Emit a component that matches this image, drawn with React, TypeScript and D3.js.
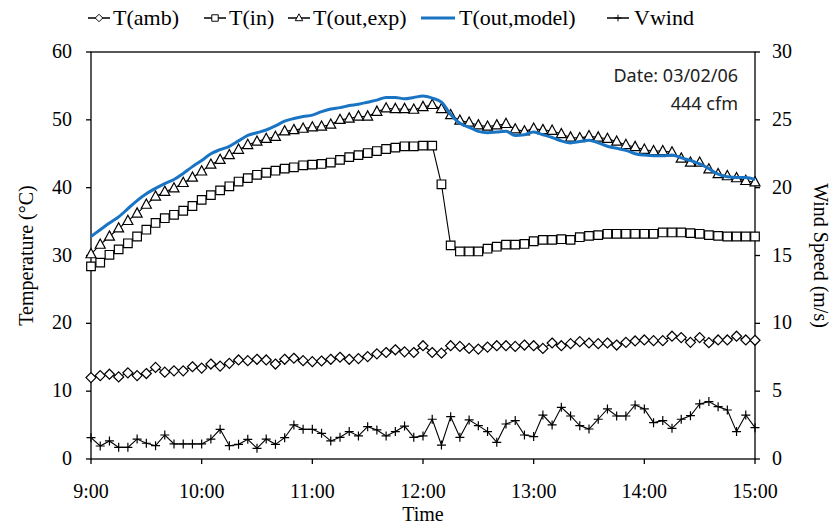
import * as d3 from 'd3'
import React from 'react'

// 5-minute samples from 9:00 to 15:00
const START_MIN = 9 * 60
const STEP_MIN = 5

const tAmb = [
  12.0, 12.3, 12.5, 12.1, 12.7, 12.3, 12.6, 13.5, 12.8, 13.0, 13.0, 13.6, 13.4, 14.0, 13.7, 14.1,
  14.6, 14.5, 14.7, 14.6, 14.0, 14.7, 14.85, 14.5, 14.35, 14.45, 14.7, 15.0, 14.7, 14.8, 15.1, 15.5,
  15.7, 16.1, 15.8, 15.7, 16.7, 15.7, 15.6, 16.7, 16.6, 16.3, 16.2, 16.5, 16.7, 16.7, 16.6, 16.8,
  16.7, 16.3, 17.1, 16.7, 17.0, 17.3, 17.1, 17.0, 17.1, 16.8, 17.2, 17.4, 17.55, 17.45, 17.45, 18.1,
  17.9, 17.2, 17.9, 17.15, 17.55, 17.55, 18.1, 17.55, 17.5,
]

const tIn = [
  28.4, 28.95, 30.1, 30.9, 31.8, 32.8, 33.8, 34.8, 35.5, 36.0, 36.6, 37.3, 38.2, 38.9, 39.6, 40.2,
  40.9, 41.4, 41.9, 42.2, 42.5, 42.8, 43.0, 43.3, 43.4, 43.5, 43.7, 44.1, 44.5, 44.8, 45.1, 45.4,
  45.7, 45.9, 46.1, 46.1, 46.2, 46.2, 40.5, 31.5, 30.6, 30.6, 30.6, 31.0, 31.3, 31.6, 31.6, 31.7,
  32.1, 32.3, 32.3, 32.4, 32.3, 32.7, 32.9, 33.0, 33.2, 33.2, 33.2, 33.2, 33.2, 33.2, 33.4, 33.4,
  33.4, 33.3, 33.2, 33.0, 32.9, 32.8, 32.8, 32.8, 32.8,
]

const tOutExp = [
  30.2, 31.6, 32.8, 34.0, 35.1, 36.2, 37.5, 38.7, 39.4, 39.9, 40.7, 41.5, 42.4, 43.4, 44.1, 44.8,
  45.6, 46.3, 46.8, 47.2, 47.5, 48.3, 48.5, 48.7, 48.9, 49.0, 49.3, 50.0, 50.2, 50.5, 50.5, 51.2,
  51.7, 51.6, 51.6, 51.5, 51.9, 52.2, 51.6, 50.7, 49.9, 49.6, 49.2, 49.0, 49.2, 49.4, 48.6, 48.3,
  48.7, 48.5, 48.4, 47.9, 47.4, 47.3, 47.6, 47.4, 47.2, 46.8, 46.3, 46.0, 45.6, 45.4, 45.4, 45.2,
  44.3, 43.7, 43.7, 42.7, 42.0, 41.7, 41.4, 41.0, 40.8,
]

const tOutModel = [
  32.8, 33.8, 34.8, 35.7, 36.9, 38.1, 39.1, 39.9, 40.6, 41.2, 42.1, 43.1, 44.0, 45.0, 45.6, 46.1,
  46.9, 47.7, 48.1, 48.5, 49.1, 49.8, 50.2, 50.5, 50.7, 51.2, 51.6, 51.8, 52.1, 52.3, 52.6, 52.9,
  53.3, 53.3, 53.1, 53.3, 53.5, 53.2, 52.6, 50.8, 49.5, 48.9, 48.3, 48.1, 48.2, 48.3, 47.7, 47.8,
  48.2, 47.8, 47.4, 46.9, 46.6, 46.8, 47.0, 46.6, 46.1, 45.8, 45.5, 45.0, 44.8, 44.7, 44.7, 44.8,
  44.4, 44.0, 43.5, 42.8, 42.0, 41.6, 41.5, 41.5, 41.2,
]

const vWind = [
  1.57, 0.96, 1.33, 0.86, 0.86, 1.47, 1.16, 0.98, 1.77, 1.11, 1.11, 1.11, 1.11, 1.47, 2.19, 0.98,
  1.08, 1.45, 0.79, 1.47, 1.08, 1.57, 2.51, 2.19, 2.19, 1.89, 1.33, 1.6, 2.02, 1.7, 2.38, 2.14,
  1.7, 2.02, 2.43, 1.6, 1.7, 2.93, 1.03, 3.12, 1.6, 2.88, 2.46, 2.02, 1.23, 2.58, 2.83, 1.77,
  1.65, 3.24, 2.51, 3.81, 3.17, 2.46, 2.21, 2.93, 3.69, 3.17, 3.17, 3.98, 3.69, 2.68, 2.83, 2.26,
  2.93, 3.19, 4.06, 4.23, 3.86, 3.61, 2.02, 3.24, 2.31,
]

const tempTicks = [0, 10, 20, 30, 40, 50, 60]
const windTicks = [0, 5, 10, 15, 20, 25, 30]
const hourTicks = [9, 10, 11, 12, 13, 14, 15]

const W = 836
const H = 524
const M = { left: 91, right: 755, top: 52, bottom: 459 }
const SERIF = '"Liberation Serif", "DejaVu Serif", serif'
const SANS = '"Noto Sans", "Open Sans", sans-serif'
const BLUE = '#1a74c4'

const mins = tAmb.map((_, i) => START_MIN + i * STEP_MIN)

const x = d3.scaleLinear().domain([9 * 60, 15 * 60]).range([M.left, M.right])
const yT = d3.scaleLinear().domain([0, 60]).range([M.bottom, M.top])
const yW = d3.scaleLinear().domain([0, 30]).range([M.bottom, M.top])

const markers = {
  diamond: 'M0,-5L5,0L0,5L-5,0Z',
  square: 'M-4.3,-4.3H4.3V4.3H-4.3Z',
  triangle: 'M0,-5.6L5,3.6H-5Z',
  plus: 'M-4.5,0H4.5M0,-4.5V4.5',
}

const Series = ({ values, scale, marker }) => {
  const line = d3
    .line()
    .x((d, i) => x(mins[i]))
    .y(d => scale(d))
  return (
    <g>
      <path d={line(values)} fill="none" stroke="#000" strokeWidth={1.1} />
      {values.map((v, i) => (
        <path
          key={i}
          d={markers[marker]}
          transform={`translate(${x(mins[i])},${scale(v)})`}
          fill={marker === 'plus' ? 'none' : '#fff'}
          stroke="#000"
          strokeWidth={1.2}
        />
      ))}
    </g>
  )
}

// legend: x of symbol start, x of text start
const legendItems = [
  { label: 'T(amb)', marker: 'diamond', x: 88, tx: 113 },
  { label: 'T(in)', marker: 'square', x: 204, tx: 229 },
  { label: 'T(out,exp)', marker: 'triangle', x: 288, tx: 313 },
  { label: 'T(out,model)', marker: null, x: 421, tx: 459 },
  { label: 'Vwind', marker: 'plus', x: 607, tx: 634 },
]

const fmtHour = h => `${h}:00`

export default function App() {
  const modelLine = d3
    .line()
    .x((d, i) => x(mins[i]))
    .y(d => yT(d))
    .curve(d3.curveMonotoneX)

  return (
    <svg width={W} height={H} style={{ position: 'absolute', left: 0, top: 0, background: '#fff' }}>
      {/* legend */}
      <g fontFamily={SERIF} fontSize={22}>
        {legendItems.map(it => (
          <g key={it.label} transform="translate(0,18)">
            {it.marker ? (
              <>
                <line x1={it.x} x2={it.x + 22} y1={0} y2={0} stroke="#000" strokeWidth={1.5} />
                <path
                  d={markers[it.marker]}
                  transform={`translate(${it.x + 11},0) scale(0.75)`}
                  fill="#fff"
                  stroke="#000"
                  strokeWidth={1.3}
                />
              </>
            ) : (
              <line x1={it.x} x2={it.x + 34} y1={0} y2={0} stroke={BLUE} strokeWidth={3} />
            )}
            <text x={it.tx} y={7}>
              {it.label}
            </text>
          </g>
        ))}
      </g>

      {/* frame */}
      <rect x={M.left} y={M.top} width={M.right - M.left} height={M.bottom - M.top} fill="none" stroke="#000" strokeWidth={1.3} />

      {/* axes */}
      <g fontFamily={SERIF} fontSize={20}>
        {tempTicks.map(t => (
          <g key={t} transform={`translate(0,${yT(t)})`}>
            <line x1={M.left - 5} x2={M.left} stroke="#000" strokeWidth={1.3} />
            <text x={M.left - 19} y={6} textAnchor="end">
              {t}
            </text>
          </g>
        ))}
        {windTicks.map(t => (
          <g key={t} transform={`translate(0,${yW(t)})`}>
            <line x1={M.right} x2={M.right + 5} stroke="#000" strokeWidth={1.3} />
            <text x={M.right + 17} y={6}>
              {t}
            </text>
          </g>
        ))}
        {hourTicks.map(h => (
          <g key={h} transform={`translate(${x(h * 60)},0)`}>
            <line y1={M.bottom} y2={M.bottom + 5} stroke="#000" strokeWidth={1.3} />
            <text y={M.bottom + 39} textAnchor="middle">
              {fmtHour(h)}
            </text>
          </g>
        ))}
        <text x={(M.left + M.right) / 2} y={H - 3} textAnchor="middle">
          Time
        </text>
        <text transform={`translate(33,${(M.top + M.bottom) / 2}) rotate(-90)`} textAnchor="middle">
          Temperature (°C)
        </text>
        <text transform={`translate(814,${(M.top + M.bottom) / 2}) rotate(90)`} textAnchor="middle">
          Wind Speed (m/s)
        </text>
      </g>

      {/* series */}
      <Series values={tAmb} scale={yT} marker="diamond" />
      <Series values={tIn} scale={yT} marker="square" />
      <Series values={tOutExp} scale={yT} marker="triangle" />
      <path d={modelLine(tOutModel)} fill="none" stroke={BLUE} strokeWidth={3} />
      <Series values={vWind} scale={yW} marker="plus" />

      {/* annotation */}
      <g fontFamily={SANS} fontSize={18} textAnchor="end" fill="#222">
        <text x={738} y={82}>Date: 03/02/06</text>
        <text x={738} y={110}>444 cfm</text>
      </g>
    </svg>
  )
}
